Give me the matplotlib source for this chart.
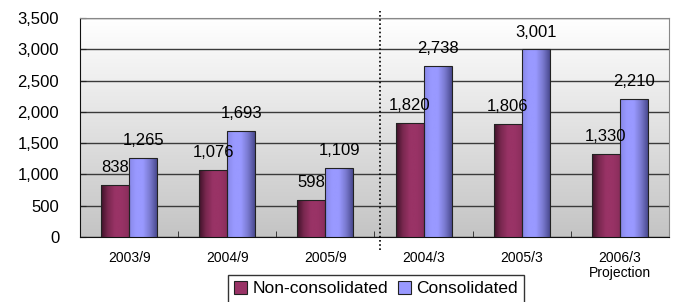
import matplotlib
matplotlib.use("Agg")
import matplotlib.pyplot as plt
import numpy as np
from matplotlib.colors import LinearSegmentedColormap
from matplotlib.ticker import FuncFormatter, FixedLocator

categories = ["2003/9", "2004/9", "2005/9", "2004/3", "2005/3", "2006/3\nProjection"]
non_consolidated = [838, 1076, 598, 1820, 1806, 1330]
consolidated = [1265, 1693, 1109, 2738, 3001, 2210]
series_names = ["Non-consolidated", "Consolidated"]

plt.rcParams['font.family'] = ['Liberation Sans', 'DejaVu Sans']

fig = plt.figure(figsize=(6.76, 3.02), dpi=100)
ax = fig.add_axes([80/676, 1-237/302, 589/676, 219/302])

# background gradient
bg = np.linspace(0, 1, 256).reshape(-1, 1)
bg_cmap = LinearSegmentedColormap.from_list("bg", ["#c4c4c4", "#ffffff"])
ax.imshow(bg, extent=[0, 1, 0, 1], transform=ax.transAxes, origin="lower",
          cmap=bg_cmap, aspect="auto", zorder=0)

x = np.arange(len(categories))
w = 0.285
b1 = ax.bar(x - w/2, non_consolidated, w, color="#993366", edgecolor="#222222", linewidth=0.8, zorder=3)
b2 = ax.bar(x + w/2, consolidated, w, color="#9999ff", edgecolor="#222222", linewidth=0.8, zorder=3)

cm1 = LinearSegmentedColormap.from_list("c1", ["#3e1228", "#7a2850", "#993366", "#993366", "#8a2e5c"])
cm2 = LinearSegmentedColormap.from_list("c2", ["#8888e8", "#9999ff", "#9999ff", "#7a7ad0", "#4a4a90"])
grad = np.linspace(0, 1, 128).reshape(1, -1)
for bars, cm in ((b1, cm1), (b2, cm2)):
    for p in bars:
        x0, y0 = p.get_x(), p.get_y()
        im = ax.imshow(grad, extent=[x0, x0 + p.get_width(), y0, y0 + p.get_height()],
                       cmap=cm, aspect="auto", zorder=3.5, origin="lower")
        im.set_clip_path(p)
        p.set_facecolor("none")
        p.set_zorder(4)

ax.set_xlim(-0.5, len(categories) - 0.5)
ax.set_ylim(0, 3500)
ax.set_yticks(np.arange(0, 3501, 500))
ax.yaxis.set_major_formatter(FuncFormatter(lambda v, p: f"{int(v):,}"))
ax.grid(axis="y", color="#3a3a3a", linewidth=1, zorder=1)
ax.set_axisbelow(True)

ax.set_xticks(x)
ax.set_xticklabels(categories, fontsize=10, linespacing=1.1)
ax.xaxis.set_minor_locator(FixedLocator(np.arange(0.5, len(categories) - 0.5, 1)))
ax.tick_params(axis="x", which="major", length=0, pad=10)
ax.tick_params(axis="x", which="minor", direction="in", length=4, color="#222222")
ax.tick_params(axis="y", direction="in", length=4, labelsize=12, pad=15, color="#222222")

for s in ("left", "bottom"):
    ax.spines[s].set_color("#111111")
for s in ("top", "right"):
    ax.spines[s].set_color("#888888")

for bars, vals in ((b1, non_consolidated), (b2, consolidated)):
    for p, v in zip(bars, vals):
        ax.annotate(f"{v:,}", (p.get_x() + p.get_width()/2, v), xytext=(0, 7),
                    textcoords="offset points", ha="center", va="bottom", fontsize=12, zorder=6)

# dotted divider between half-year and full-year results
div_x = 2.555
ax.plot([div_x, div_x], [-0.06, 1.03], transform=ax.get_xaxis_transform(),
        color="black", linestyle=(0, (1, 1.5)), linewidth=1.2, clip_on=False, zorder=5)

leg = fig.legend([b1[0], b2[0]], series_names, loc="upper center",
                 bbox_to_anchor=(376/676, 1-275/302), ncol=2, frameon=True,
                 fontsize=12.5, handlelength=0.75, handleheight=0.75, handletextpad=0.3,
                 columnspacing=0.6, borderpad=0.35, borderaxespad=0, fancybox=False,
                 edgecolor="black")
leg.get_frame().set_linewidth(1)
leg.legend_handles[0].set_facecolor("#993366")
leg.legend_handles[1].set_facecolor("#9999ff")

fig.savefig("out.png", dpi=100)
